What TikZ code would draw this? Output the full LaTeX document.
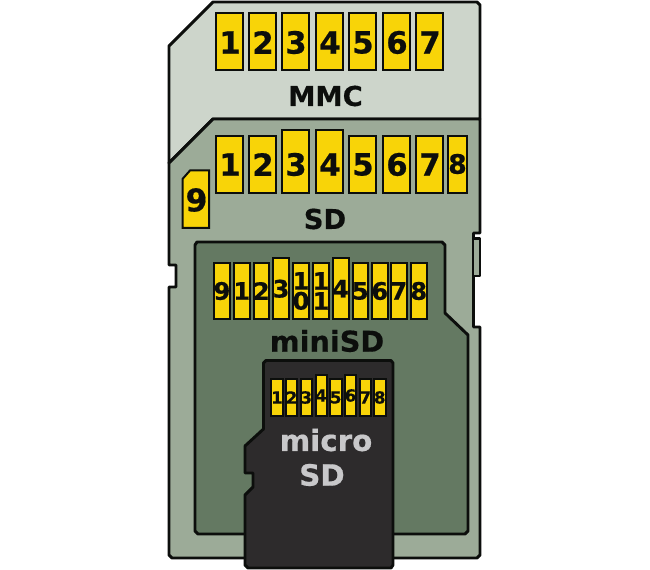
\documentclass[tikz,border=0pt]{standalone}
\usepackage{fontspec}
\setmainfont{DejaVu Sans}
\newfontfamily\heavy{DejaVu Sans Bold}[FakeBold=0.5]
\definecolor{mmcfill}{RGB}{205,213,203}
\definecolor{sdfill}{RGB}{156,171,152}
\definecolor{minifill}{RGB}{100,121,98}
\definecolor{microfill}{RGB}{45,43,44}
\definecolor{pinfill}{RGB}{248,212,8}
\definecolor{edge}{RGB}{12,14,12}
\definecolor{microtxt}{RGB}{200,200,202}
\tikzset{
  x=0.75pt,y=-0.75pt,
  card/.style={draw=edge,line width=2.2pt,line join=round},
  pinbox/.style={draw=edge,line width=1.5pt,fill=pinfill},
  cardtitle/.style={font=\heavy\fontsize{#1}{#1}\selectfont,inner sep=0pt,text=edge},
  pintext/.style={font=\heavy\fontsize{#1}{15}\selectfont,inner sep=0pt,text=edge},
}
% name, x0, y0, x1, y1, label, label size
\newcommand{\pin}[7]{%
  \draw[pinbox] (#2,#3) rectangle (#4,#5);
  \node[pintext=#7] (#1) at ({(#2+#4)/2},{(#3+#5)/2}) {#6};
}
\begin{document}
\begin{tikzpicture}
\useasboundingbox (0,0) rectangle (650,570);
\fill[white] (0,0) rectangle (650,570);
% MMC body
\draw[card,fill=mmcfill] (169,46) -- (213,2) -- (477,2) -- (480,5) -- (480,119) -- (213,119) -- (169,163) -- cycle;
% SD body
\draw[card,fill=sdfill] (169,163) -- (213,119) -- (480,119) -- (480,233) -- (473.5,233) -- (473.5,327) -- (480,327) -- (480,555) -- (477,558) -- (172,558) -- (169,555) -- (169,287) -- (176,287) -- (176,265) -- (169,265) -- cycle;
% write-protect slider
\draw[card,fill=sdfill] (473.5,238.5) -- (480,238.5) -- (480,276) -- (473.5,276);
% MMC pins
\foreach \i/\xa in {1/216,2/249,3/282,4/316,5/349,6/383,7/416}{
  \draw[pinbox] (\xa,13.5) rectangle ++(27,57);
  \node[pintext=23] (m\i) at (\xa+14,42.5) {\i};
}
\node[cardtitle=20.5] (mmc) at (325.5,96) {MMC};
% SD pins
\foreach \i/\xa/\ya in {1/216/136.5,2/249/136.5,3/282/130.5,4/316/130.5,5/349/136.5,6/383/136.5,7/416/136.5}{
  \draw[pinbox] (\xa,\ya) rectangle (\xa+27,193.5);
  \node[pintext=23] (s\i) at (\xa+14,164.5) {\i};
}
\draw[pinbox] (448,136.5) rectangle (467,193.5);
\node[pintext=20] (s8) at (457.5,164) {8};
\draw[pinbox] (182.5,179) -- (190,170.5) -- (209,170.5) -- (209,228) -- (182.5,228) -- cycle;
\node[pintext=23.5] (s9) at (196.5,200) {9};
\node[cardtitle=20.5] (sd) at (325,219) {SD};
% miniSD body
\draw[card,fill=minifill] (195,245) -- (197,242) -- (442,242) -- (445,245) -- (445,313) -- (468,335) -- (468,531) -- (465,534) -- (198,534) -- (195,531) -- cycle;
% miniSD pins
\pin{p9}{214}{263}{230}{319}{9}{18}
\pin{p1}{234}{263}{249.5}{319}{1}{18}
\pin{p2}{253.5}{263}{269}{319}{2}{18}
\pin{p3}{273}{258.5}{289}{319}{3}{18}
\draw[pinbox] (293,263) rectangle (309,319);
\node[pintext=18,align=center] (p10) at (301,291) {1\\0};
\draw[pinbox] (313,263) rectangle (328.5,319);
\node[pintext=18,align=center] (p11) at (321,291) {1\\1};
\pin{p4}{332.5}{258.5}{348.5}{319}{4}{18}
\pin{p5}{352.5}{263}{368}{319}{5}{18}
\pin{p6}{372}{263}{387.5}{319}{6}{18}
\pin{p7}{391}{263}{406.5}{319}{7}{18}
\pin{p8}{411}{263}{426.5}{319}{8}{18}
\node[cardtitle=21.5] (mini) at (327,341) {miniSD};
% microSD body
\draw[card,fill=microfill] (263.5,363) -- (266,360.5) -- (391,360.5) -- (393,363) -- (393,565) -- (391,568) -- (248,568) -- (245,565) -- (245,495) -- (253,487) -- (253,473) -- (245,473) -- (245,446) -- (263.5,429) -- cycle;
% microSD pins
\pin{u1}{271}{379}{283}{416}{1}{12.5}
\pin{u2}{286}{379}{297}{416}{2}{12.5}
\pin{u3}{300.5}{379}{312}{416}{3}{12.5}
\pin{u4}{315.5}{375}{326.5}{416}{4}{12.5}
\pin{u5}{330}{379}{341.5}{416}{5}{12.5}
\pin{u6}{345}{375}{356}{416}{6}{12.5}
\pin{u7}{359.5}{379}{371}{416}{7}{12.5}
\pin{u8}{374}{379}{385.5}{416}{8}{12.5}
\node[cardtitle=22,text=microtxt] (mic1) at (326,440) {micro};
\node[cardtitle=22,text=microtxt] (mic2) at (322,475) {SD};
\end{tikzpicture}
\end{document}
